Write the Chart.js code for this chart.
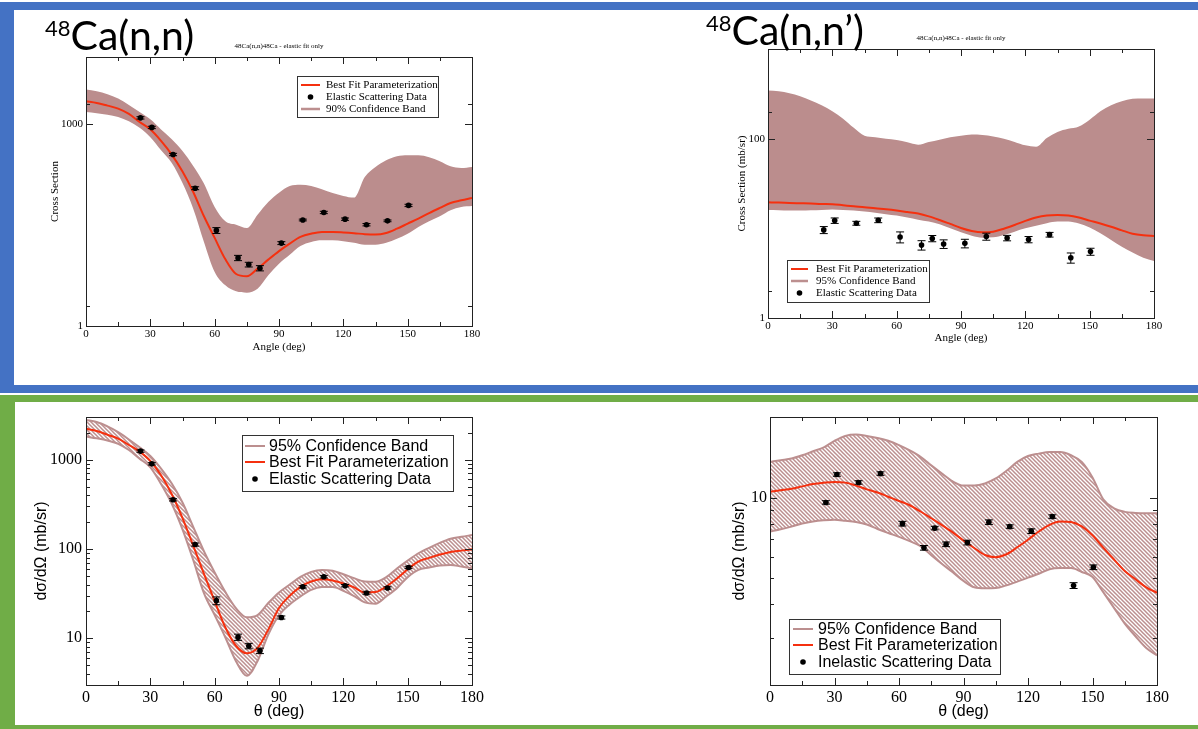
<!DOCTYPE html>
<html>
<head>
<meta charset="utf-8">
<script src="https://cdn.jsdelivr.net/npm/chart.js@4.4.1/dist/chart.umd.min.js"></script>
<style>
  body { margin: 0; width: 1198px; height: 729px; background: #fff; position: relative; overflow: hidden; }
  .bar { position: absolute; }
  .blue { background: #4472c4; }
  .green { background: #70ad47; }
  .panel { position: absolute; }
  .heading { position: absolute; font-family: Lato, "Open Sans", sans-serif; font-size: 41px; line-height: 41px; color: #000; white-space: nowrap; }
  .heading sup { font-size: 22px; position: relative; top: 3px; vertical-align: top; line-height: 22px; }
</style>
</head>
<body>
<!-- slide frames -->
<div class="bar blue" style="left:0;top:2px;width:1198px;height:8px"></div>
<div class="bar blue" style="left:0;top:2px;width:14px;height:391px"></div>
<div class="bar blue" style="left:0;top:385px;width:1198px;height:8px"></div>
<div class="bar green" style="left:0;top:395px;width:1198px;height:7px"></div>
<div class="bar green" style="left:0;top:395px;width:15px;height:334px"></div>
<div class="bar green" style="left:0;top:725px;width:1198px;height:4px"></div>

<canvas id="chart-el90" class="panel" style="left:15px;top:12px" width="580" height="372"></canvas>
<canvas id="chart-inel-top" class="panel" style="left:600px;top:12px" width="598" height="372"></canvas>
<canvas id="chart-el95" class="panel" style="left:15px;top:402px" width="580" height="322"></canvas>
<canvas id="chart-inel95" class="panel" style="left:600px;top:402px" width="598" height="322"></canvas>

<div class="heading" style="left:45px;top:14px"><sup>48</sup>Ca(n,n)</div>
<div class="heading" style="left:706px;top:9px"><sup>48</sup>Ca(n,n’)</div>

<script>
// ───────────────────────── DATA ─────────────────────────
// angles (deg) the fitted curves and bands are sampled at
const angleGrid = [0, 5, 10, 15, 20, 25, 30, 35, 40, 45, 50, 55, 60, 65, 70, 75, 80, 85, 90,
                   95, 100, 105, 110, 115, 120, 125, 130, 135, 140, 145, 150, 155, 160, 165, 170, 175, 180];

// measured elastic cross sections (mb/sr)
const elasticAngles = [25.4, 30.7, 40.6, 50.9, 60.8, 70.9, 75.9, 81.1, 91.1, 101.1, 110.9, 120.8, 130.8, 140.6, 150.4];
const elasticXS     = [1245, 897, 355, 112, 26.4, 10.3, 8.2, 7.25, 17.1, 37.7, 48.8, 38.8, 32.1, 36.6, 62.1];
const elasticErrTop    = [0.04, 0.04, 0.04, 0.05, 0.10, 0.09, 0.08, 0.09, 0.05, 0.03, 0.04, 0.04, 0.04, 0.03, 0.04];
const elasticErrBottom = [0.03, 0.03, 0.03, 0.04, 0.10, 0.08, 0.07, 0.07, 0.04, 0.03, 0.03, 0.03, 0.03, 0.03, 0.03];

// measured inelastic cross sections (mb/sr)
const inelasticAngles = [26.0, 31.1, 41.2, 51.4, 61.6, 71.6, 76.6, 81.9, 91.8, 101.8, 111.5, 121.5, 131.3, 141.2, 150.4];
const inelasticXS     = [9.6, 12.2, 11.4, 12.3, 8.0, 6.5, 7.7, 6.7, 6.8, 8.1, 7.8, 7.5, 8.5, 4.7, 5.5];
const inelasticErrTop    = [0.09, 0.07, 0.05, 0.06, 0.14, 0.12, 0.08, 0.11, 0.11, 0.09, 0.07, 0.08, 0.06, 0.13, 0.09];
const inelasticErrBottom = [0.015, 0.015, 0.015, 0.015, 0.02, 0.02, 0.015, 0.02, 0.02, 0.02, 0.015, 0.02, 0.015, 0.025, 0.02];

// elastic fit, 90% band (upper panel)
const fitElastic90 = [2198, 2075, 1892, 1710, 1423, 1082, 841, 565, 353, 198, 98.4, 42.8, 20.4, 9.8, 5.93, 5.48, 7.13, 9.7, 13.0,
                      16.8, 21.1, 23.6, 25.0, 25.0, 24.6, 24.0, 23.2, 22.9, 24.2, 28.0, 33.3, 39.5, 47.7, 56.9, 67.5, 74.0, 80.2];
const bandElastic90Hi = [3273, 3090, 2798, 2405, 1937, 1524, 1186, 836, 597, 401, 240, 131, 58.9, 36.1, 32.1, 28.7, 45.3, 69.9, 96.2,
                         121, 126, 121, 108, 95.1, 85.9, 81.1, 164, 232, 291, 334, 345, 345, 323, 281, 237, 224, 232];
const bandElastic90Lo = [1524, 1462, 1381, 1284, 1107, 885, 640, 410, 266, 134, 55.6, 17.8, 6.36, 4.03, 3.28, 3.13, 3.59, 5.67, 8.45,
                         11.5, 15.5, 17.8, 18.8, 18.8, 18.2, 17.3, 16.2, 16.2, 17.3, 19.9, 23.6, 29.7, 36.1, 42.8, 52.5, 58.9, 60.9];

// elastic-only fit applied to the inelastic set, 95% band (upper panel)
const fitInelasticTop = [19.5, 19.4, 19.2, 19.05, 18.9, 18.7, 18.6, 18.1, 17.6, 17.2, 16.7, 16.3, 15.8, 15.2, 14.6, 13.6, 12.4, 11.2, 10.1,
                         9.34, 9.02, 9.18, 9.91, 10.9, 12.1, 13.2, 13.9, 14.1, 13.9, 13.2, 12.2, 11.3, 10.4, 9.5, 8.71, 8.35, 8.2];
const bandInelasticTopHi = [345, 339, 322, 298, 266, 236, 202, 167, 132, 108, 104, 100, 96.6, 91, 85.7, 91.8, 97.5, 104, 108,
                            111, 110, 106, 100, 91.8, 84.2, 81.3, 102, 119, 129, 137, 163, 202, 236, 262, 278, 281, 281];
const bandInelasticTopLo = [16.0, 15.9, 15.8, 15.8, 15.9, 16.0, 16.2, 16.0, 15.8, 15.4, 14.9, 14.4, 13.9, 13.2, 12.5, 11.9, 11.1, 10.0, 9.02,
                            8.28, 7.87, 7.93, 8.42, 9.18, 10.0, 10.7, 11.4, 11.9, 11.9, 11.3, 10.2, 8.79, 7.40, 6.24, 5.39, 4.70, 4.31];

// elastic fit, 95% band (lower panel)
const fitElastic = [2216, 2090, 1900, 1714, 1458, 1228, 966, 668, 410, 222, 109, 52.6, 26.1, 13.2, 8.2, 6.8, 7.8, 12.5, 21.8,
                    29.9, 37.7, 43.2, 45.9, 44.4, 41.0, 37.1, 32.6, 32.9, 38.0, 46.6, 59.3, 72.3, 79.5, 86.5, 92.6, 95.8, 99.1];
const bandElasticHi = [2780, 2642, 2355, 2036, 1682, 1374, 1099, 794, 540, 331, 177, 94.2, 54.5, 32.9, 21.6, 17.2, 18.2, 24.8, 32.6,
                       40.0, 48.7, 55.4, 58.1, 56.9, 52.1, 47.1, 43.2, 42.9, 48.3, 60.4, 74.1, 89.5, 103, 117, 130, 137, 143];
const bandElasticLo = [1811, 1730, 1636, 1507, 1282, 1026, 821, 535, 321, 166, 75.3, 32.0, 18.2, 10.2, 5.50, 3.80, 5.58, 11.0, 18.1,
                       23.9, 29.4, 34.9, 37.4, 37.4, 34.0, 29.7, 25.2, 24.4, 29.4, 36.4, 48.3, 58.3, 61.9, 65.2, 66.3, 63.5, 60.8];

// inelastic fit, 95% band (lower panel)
const fitInelastic = [10.52, 10.66, 10.80, 11.02, 11.24, 11.37, 11.45, 11.38, 11.09, 10.74, 10.46, 10.08, 9.72, 9.37, 8.88, 8.38, 7.90, 7.42, 6.92,
                      6.49, 6.11, 6.00, 6.15, 6.53, 6.97, 7.48, 7.92, 8.15, 8.11, 7.81, 7.24, 6.51, 5.88, 5.33, 4.96, 4.63, 4.42];
const bandInelasticHi = [13.6, 13.8, 14.0, 14.4, 14.9, 15.4, 16.3, 17.0, 17.2, 17.0, 16.7, 16.3, 15.7, 15.0, 14.2, 13.2, 12.3, 11.5, 11.1,
                         11.1, 11.3, 11.8, 12.6, 13.6, 14.3, 14.6, 14.8, 14.8, 14.4, 13.6, 11.9, 9.86, 9.13, 8.85, 8.77, 8.75, 8.75];
const bandInelasticLo = [7.48, 7.62, 7.80, 8.01, 8.15, 8.23, 8.27, 8.20, 8.11, 7.94, 7.64, 7.38, 7.14, 6.88, 6.59, 6.10, 5.66, 5.27, 4.89,
                         4.63, 4.59, 4.60, 4.71, 4.86, 5.03, 5.20, 5.41, 5.46, 5.46, 5.28, 5.06, 4.44, 3.88, 3.39, 3.04, 2.75, 2.58];

// axis ticks
const angleTicks  = [0, 15, 30, 45, 60, 75, 90, 105, 120, 135, 150, 165, 180];
const angleLabels = [0, 30, 60, 90, 120, 150, 180];
const xsTicksEl90   = [1, 2, 1000, 2000];
const xsLabelsEl90  = [1, 1000];
const xsTicksInelTop  = [1, 2, 100, 200];
const xsLabelsInelTop = [1, 100];
const xsTicksEl95  = [3, 4, 5, 6, 7, 8, 9, 10, 20, 30, 40, 50, 60, 70, 80, 90, 100, 200, 300, 400, 500, 600, 700, 800, 900, 1000, 2000, 3000];
const xsLabelsEl95 = [10, 100, 1000];
const xsTicksInel95  = [2, 3, 4, 5, 6, 7, 8, 9, 10, 20];
const xsLabelsInel95 = [10];

// ───────────────────────── STYLES ─────────────────────────
const RED  = "#f5300f";
const ROSY = "#bc8f8f";
const BAND = "#bb8d8d";
const SERIF = "'Liberation Serif', 'Times New Roman', serif";
const SANS  = "'Liberation Sans', Arial, sans-serif";

// diagonal "\\\" hatching for the lower panels
function hatch(color) {
    const c = document.createElement("canvas");
    c.width = c.height = 4;
    const g = c.getContext("2d");
    g.strokeStyle = color;
    g.lineWidth = 1.5;
    g.beginPath();
    g.moveTo(-1, -1); g.lineTo(5, 5);
    g.moveTo(-1, 3);  g.lineTo(1, 5);
    g.moveTo(3, -1);  g.lineTo(5, 1);
    g.stroke();
    return g.createPattern(c, "repeat");
}

// ───────────────────────── PLUGINS ─────────────────────────
// box round the plot with inward ticks on all four sides, plus the small caption above it
const frameTicks = {
    id: "frameTicks",
    afterDraw(chart, args, o) {
        const { ctx, chartArea: a, scales: { x, y } } = chart;
        ctx.save();
        ctx.strokeStyle = o.color;
        ctx.lineWidth = 1;
        ctx.strokeRect(Math.round(a.left) + 0.5, Math.round(a.top) + 0.5, Math.round(a.right - a.left), Math.round(a.bottom - a.top));
        ctx.beginPath();
        x.ticks.forEach(t => {
            const px = Math.round(x.getPixelForValue(t.value)) + 0.5;
            const len = o.xMajor.includes(t.value) ? o.major : o.minor;
            ctx.moveTo(px, a.bottom); ctx.lineTo(px, a.bottom - len);
            ctx.moveTo(px, a.top);    ctx.lineTo(px, a.top + len);
        });
        y.ticks.forEach(t => {
            const py = Math.round(y.getPixelForValue(t.value)) + 0.5;
            const len = o.yMajor.includes(t.value) ? o.major : o.minor;
            ctx.moveTo(a.left, py);  ctx.lineTo(a.left + len, py);
            ctx.moveTo(a.right, py); ctx.lineTo(a.right - len, py);
        });
        ctx.stroke();
        if (o.caption) {
            ctx.fillStyle = "#000";
            ctx.font = "7px " + SERIF;
            ctx.textAlign = "center";
            ctx.textBaseline = "middle";
            ctx.fillText(o.caption, (a.left + a.right) / 2, a.top - 11);
        }
        ctx.restore();
    }
};

// vertical error bars with caps, drawn under the markers
const errorBars = {
    id: "errorBars",
    beforeDatasetDraw(chart, args) {
        const ds = chart.data.datasets[args.index];
        if (!ds.errFrac) return;
        const { ctx, scales: { y } } = chart;
        ctx.save();
        ctx.strokeStyle = "#000";
        ctx.lineWidth = 1;
        ctx.beginPath();
        args.meta.data.forEach((pt, i) => {
            const v = ds.data[i].y, e = v * ds.errFrac[i];
            const yHi = y.getPixelForValue(v + e), yLo = y.getPixelForValue(v - e);
            ctx.moveTo(pt.x, yHi); ctx.lineTo(pt.x, yLo);
            ctx.moveTo(pt.x - 4, yHi); ctx.lineTo(pt.x + 4, yHi);
            ctx.moveTo(pt.x - 4, yLo); ctx.lineTo(pt.x + 4, yLo);
        });
        ctx.stroke();
        ctx.restore();
    }
};

// boxed legend at a fixed spot in the canvas
const insetLegend = {
    id: "insetLegend",
    afterDraw(chart, args, o) {
        const ctx = chart.ctx;
        ctx.save();
        ctx.fillStyle = "#fff";
        ctx.fillRect(o.x, o.y, o.w, o.h);
        ctx.strokeStyle = "#333";
        ctx.lineWidth = 1;
        ctx.strokeRect(o.x + 0.5, o.y + 0.5, o.w, o.h);
        ctx.font = o.font;
        ctx.textBaseline = "middle";
        o.items.forEach((it, i) => {
            const cy = o.y + o.rows[i];
            if (it.kind === "dot") {
                ctx.fillStyle = "#000";
                ctx.beginPath();
                ctx.arc(o.x + (o.s0 + o.s1) / 2, cy, 2.8, 0, Math.PI * 2);
                ctx.fill();
            } else {
                ctx.strokeStyle = it.color;
                ctx.lineWidth = it.width;
                ctx.beginPath();
                ctx.moveTo(o.x + o.s0, cy);
                ctx.lineTo(o.x + o.s1, cy);
                ctx.stroke();
            }
            ctx.fillStyle = "#000";
            ctx.fillText(it.label, o.x + o.tx, cy + 0.5);
        });
        ctx.restore();
    }
};

// ───────────────────────── CHART BUILDER ─────────────────────────
function buildChart(id, c) {
    const points = c.angles.map((a, i) => ({ x: a, y: c.xs[i] }));
    const curve  = angleGrid.map((a, i) => ({ x: a, y: c.fit[i] }));
    const hi     = angleGrid.map((a, i) => ({ x: a, y: c.hi[i] }));
    const lo     = angleGrid.map((a, i) => ({ x: a, y: c.lo[i] }));

    return new Chart(document.getElementById(id), {
        type: "line",
        data: {
            datasets: [
                { data: points, showLine: false, pointRadius: 2.8, pointBackgroundColor: "#000", pointBorderWidth: 0, errFrac: c.err },
                { data: curve, borderColor: RED, borderWidth: 2, pointRadius: 0, cubicInterpolationMode: "monotone", fill: false },
                { data: hi, borderColor: c.edge, borderWidth: c.edgeWidth, pointRadius: 0, cubicInterpolationMode: "monotone",
                  fill: "+1", backgroundColor: c.fill },
                { data: lo, borderColor: c.edge, borderWidth: c.edgeWidth, pointRadius: 0, cubicInterpolationMode: "monotone", fill: false }
            ]
        },
        options: {
            responsive: false,
            animation: false,
            events: [],
            layout: { padding: c.pad },
            scales: {
                x: {
                    type: "linear", min: 0, max: 180,
                    afterFit: s => { s.height = c.xAxisH; },
                    afterBuildTicks: s => { s.ticks = angleTicks.map(v => ({ value: v })); },
                    grid: { display: false, drawTicks: false },
                    border: { display: false },
                    ticks: {
                        autoSkip: false, maxRotation: 0, padding: c.xTickPad, color: "#000",
                        font: { family: c.tickFamily, size: c.tickSize },
                        callback: v => angleLabels.includes(v) ? String(v) : ""
                    },
                    title: { display: true, text: c.xTitle, color: "#000", font: c.titleFont, padding: { top: 0, bottom: c.xTitlePad } }
                },
                y: {
                    type: "logarithmic", min: c.yMin, max: c.yMax,
                    afterFit: s => { s.width = c.yAxisW; },
                    afterBuildTicks: s => { s.ticks = c.yTicks.map(v => ({ value: v })); },
                    grid: { display: false, drawTicks: false },
                    border: { display: false },
                    ticks: {
                        autoSkip: false, padding: c.yTickPad, color: "#000",
                        font: { family: c.tickFamily, size: c.tickSize },
                        callback: v => c.yLabels.includes(v) ? String(v) : ""
                    },
                    title: { display: true, text: c.yTitle, color: "#000", font: c.titleFont, padding: { top: c.yTitlePad, bottom: 0 } }
                }
            },
            plugins: {
                legend: { display: false },
                tooltip: { enabled: false },
                frameTicks: { color: "#222", major: 7, minor: 4, xMajor: angleLabels, yMajor: c.yLabels, caption: c.caption },
                insetLegend: c.legend
            }
        },
        plugins: [errorBars, frameTicks, insetLegend]
    });
}

const hatchFill = hatch(ROSY);

// ── upper left: elastic, 90% band ──
buildChart("chart-el90", {
    angles: elasticAngles, xs: elasticXS, err: elasticErrTop,
    fit: fitElastic90, hi: bandElastic90Hi, lo: bandElastic90Lo,
    fill: BAND, edge: BAND, edgeWidth: 0,
    yMin: 1, yMax: 10000, yTicks: xsTicksEl90, yLabels: xsLabelsEl90,
    pad: { left: 0, top: 45, right: 123, bottom: 0 }, yAxisW: 71, xAxisH: 58,
    tickFamily: SERIF, tickSize: 11, xTickPad: 2, yTickPad: 3,
    titleFont: { family: SERIF, size: 11 },
    xTitle: "Angle (deg)", xTitlePad: 30.4,
    yTitle: "Cross Section", yTitlePad: 33.4,
    caption: "48Ca(n,n)48Ca - elastic fit only",
    legend: {
        x: 282, y: 64, w: 141, h: 41, rows: [9, 21, 33], s0: 4, s1: 23, tx: 29, font: "11px " + SERIF,
        items: [
            { kind: "line", color: RED, width: 2, label: "Best Fit Parameterization" },
            { kind: "dot", label: "Elastic Scattering Data" },
            { kind: "line", color: ROSY, width: 2.5, label: "90% Confidence Band" }
        ]
    }
});

// ── upper right: inelastic, elastic-only fit ──
buildChart("chart-inel-top", {
    angles: inelasticAngles, xs: inelasticXS, err: inelasticErrTop,
    fit: fitInelasticTop, hi: bandInelasticTopHi, lo: bandInelasticTopLo,
    fill: BAND, edge: BAND, edgeWidth: 0,
    yMin: 1, yMax: 1000, yTicks: xsTicksInelTop, yLabels: xsLabelsInelTop,
    pad: { left: 100, top: 37, right: 44, bottom: 0 }, yAxisW: 68, xAxisH: 66,
    tickFamily: SERIF, tickSize: 11, xTickPad: 2, yTickPad: 3,
    titleFont: { family: SERIF, size: 11 },
    xTitle: "Angle (deg)", xTitlePad: 39.4,
    yTitle: "Cross Section (mb/sr)", yTitlePad: 35.4,
    caption: "48Ca(n,n)48Ca - elastic fit only",
    legend: {
        x: 187, y: 248, w: 142, h: 42, rows: [9, 21, 33], s0: 4, s1: 21, tx: 29, font: "11px " + SERIF,
        items: [
            { kind: "line", color: RED, width: 2, label: "Best Fit Parameterization" },
            { kind: "line", color: ROSY, width: 2.5, label: "95% Confidence Band" },
            { kind: "dot", label: "Elastic Scattering Data" }
        ]
    }
});

// ── lower left: elastic, hatched 95% band ──
buildChart("chart-el95", {
    angles: elasticAngles, xs: elasticXS, err: elasticErrBottom,
    fit: fitElastic, hi: bandElasticHi, lo: bandElasticLo,
    fill: hatchFill, edge: ROSY, edgeWidth: 2,
    yMin: 3, yMax: 3000, yTicks: xsTicksEl95, yLabels: xsLabelsEl95,
    pad: { left: 0, top: 15, right: 123, bottom: 0 }, yAxisW: 71, xAxisH: 39,
    tickFamily: SERIF, tickSize: 16, xTickPad: 3, yTickPad: 4,
    titleFont: { family: SANS, size: 16 },
    xTitle: "θ (deg)", xTitlePad: 2.4,
    yTitle: "dσ/dΩ (mb/sr)", yTitlePad: 17.4,
    legend: {
        x: 227, y: 33, w: 211, h: 56, rows: [11, 27, 44], s0: 3, s1: 23, tx: 27, font: "16px " + SANS,
        items: [
            { kind: "line", color: ROSY, width: 2, label: "95% Confidence Band" },
            { kind: "line", color: RED, width: 2, label: "Best Fit Parameterization" },
            { kind: "dot", label: "Elastic Scattering Data" }
        ]
    }
});

// ── lower right: inelastic, hatched 95% band ──
buildChart("chart-inel95", {
    angles: inelasticAngles, xs: inelasticXS, err: inelasticErrBottom,
    fit: fitInelastic, hi: bandInelasticHi, lo: bandInelasticLo,
    fill: hatchFill, edge: ROSY, edgeWidth: 2,
    yMin: 2, yMax: 20, yTicks: xsTicksInel95, yLabels: xsLabelsInel95,
    pad: { left: 100, top: 15, right: 41, bottom: 0 }, yAxisW: 70, xAxisH: 39,
    tickFamily: SERIF, tickSize: 16, xTickPad: 3, yTickPad: 3,
    titleFont: { family: SANS, size: 16 },
    xTitle: "θ (deg)", xTitlePad: 2.4,
    yTitle: "dσ/dΩ (mb/sr)", yTitlePad: 30.4,
    legend: {
        x: 189, y: 217, w: 211, h: 55, rows: [10, 26, 43], s0: 4, s1: 24, tx: 29, font: "16px " + SANS,
        items: [
            { kind: "line", color: ROSY, width: 2, label: "95% Confidence Band" },
            { kind: "line", color: RED, width: 2, label: "Best Fit Parameterization" },
            { kind: "dot", label: "Inelastic Scattering Data" }
        ]
    }
});
</script>
</body>
</html>
